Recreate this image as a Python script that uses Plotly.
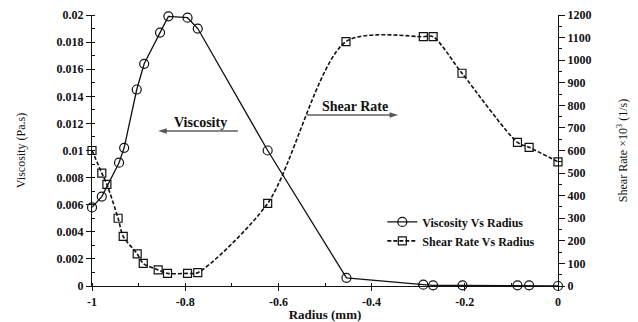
import plotly.graph_objects as go

# Viscosity vs radius
visc_x = [-1, -0.979, -0.942, -0.931, -0.904, -0.888, -0.854, -0.836, -0.795, -0.773,
          -0.623, -0.454, -0.289, -0.268, -0.205, -0.087, -0.062, 0]
visc_y = [0.0058, 0.0066, 0.0091, 0.0102, 0.0145, 0.0164, 0.0187, 0.0199, 0.0198, 0.0190,
          0.0100, 0.0006, 0.0001, 0.00005, 0.00005, 0.00005, 0.00005, 0.0]

# Shear rate vs radius (x10^3 1/s)
shear_x = [-1, -0.979, -0.968, -0.944, -0.933, -0.903, -0.890, -0.858, -0.838, -0.795,
           -0.773, -0.623, -0.455, -0.289, -0.268, -0.206, -0.087, -0.062, 0]
shear_y = [600, 500, 450, 300, 220, 142, 100, 71, 56, 56,
           59, 366, 1082, 1104, 1104, 942, 636, 614, 550]

x_ticks = [-1, -0.8, -0.6, -0.4, -0.2, 0]
x_tick_labels = ["-1", "-0.8", "-0.6", "-0.4", "-0.2", "0"]
left_ticks = [0, 0.002, 0.004, 0.006, 0.008, 0.01, 0.012, 0.014, 0.016, 0.018, 0.02]
left_tick_labels = ["0", "0.002", "0.004", "0.006", "0.008", "0.01", "0.012", "0.014", "0.016", "0.018", "0.02"]

# Annotation arrows (data coordinates: x radius, y viscosity)
visc_arrow_x = [-0.687, -0.858]
visc_arrow_y = [0.01144, 0.01144]
shear_arrow_x = [-0.539, -0.343]
shear_arrow_y = [0.01262, 0.01262]

FONT = "Liberation Serif, Times New Roman, serif"

fig = go.Figure()
fig.add_trace(go.Scatter(
    x=visc_x, y=visc_y, name="Viscosity Vs Radius", mode="lines+markers", cliponaxis=False,
    line=dict(color="#111", width=1.3),
    marker=dict(symbol="circle-open", size=9, color="#111", line=dict(width=1.2)),
))
fig.add_trace(go.Scatter(
    x=shear_x, y=shear_y, name="Shear Rate Vs Radius", mode="lines+markers", yaxis="y2",
    cliponaxis=False,
    line=dict(color="#111", width=1.6, dash="4px,2px", shape="spline", smoothing=0.8),
    marker=dict(symbol="square-open", size=8, color="#111", line=dict(width=1.2)),
))
for ax_, ay_ in [(visc_arrow_x, visc_arrow_y), (shear_arrow_x, shear_arrow_y)]:
    fig.add_trace(go.Scatter(
        x=ax_, y=ay_, mode="lines+markers", showlegend=False, hoverinfo="skip",
        line=dict(color="#111", width=1.2),
        marker=dict(symbol="arrow", size=[0, 9], angleref="previous", color="#111",
                    line=dict(width=0)),
    ))

fig.update_layout(
    width=638, height=322,
    margin=dict(l=92, r=80, t=15, b=36),
    paper_bgcolor="white", plot_bgcolor="white",
    font=dict(family=FONT, color="#111"),
    showlegend=True,
    legend=dict(x=0.623, y=0.29, xanchor="left", yanchor="top", bgcolor="rgba(0,0,0,0)",
                font=dict(family=FONT, size=12, weight="bold"), tracegroupgap=0, itemwidth=30),
    xaxis=dict(range=[-1, 0], tickvals=x_ticks, ticktext=x_tick_labels, automargin=False,
               showline=True, linecolor="#111", linewidth=1.2, showgrid=False, zeroline=False,
               ticks="outside", ticklen=4, tickcolor="#111",
               minor=dict(dtick=0.1, ticks="inside", ticklen=3, tickcolor="#111"),
               tickfont=dict(family=FONT, size=12, color="#111", weight="bold"),
               title=dict(text="<b>Radius (mm)</b>", font=dict(family=FONT, size=13), standoff=2)),
    yaxis=dict(range=[0, 0.02], tickvals=left_ticks, ticktext=left_tick_labels, automargin=False,
               showline=True, linecolor="#111", linewidth=1.2, showgrid=False, zeroline=False,
               ticks="outside", ticklen=5, tickcolor="#111",
               minor=dict(dtick=0.001, ticks="inside", ticklen=3, tickcolor="#111"),
               tickfont=dict(family=FONT, size=12, color="#111", weight="bold"),
               title=dict(text="Viscosity (Pa.s)", font=dict(family=FONT, size=12), standoff=28)),
    yaxis2=dict(range=[0, 1200], dtick=100, overlaying="y", side="right", automargin=False,
                showline=True, linecolor="#111", linewidth=1.2, showgrid=False, zeroline=False,
                ticks="outside", ticklen=6, tickcolor="#111",
                minor=dict(dtick=50, ticks="outside", ticklen=3, tickcolor="#111"),
                tickfont=dict(family=FONT, size=12, color="#111", weight="bold"),
                title=dict(text="Shear Rate ×10<sup>3</sup> (1/s)", font=dict(family=FONT, size=12), standoff=28)),
)

fig.add_annotation(x=-0.768, y=0.0121, xref="x", yref="y", text="<b>Viscosity</b>",
                   showarrow=False, font=dict(family=FONT, size=14))
fig.add_annotation(x=-0.436, y=0.01328, xref="x", yref="y", text="<b>Shear Rate</b>",
                   showarrow=False, font=dict(family=FONT, size=14))

fig.write_html("out.html", config={"displayModeBar": False},
               post_script="document.body.style.margin='0';")
